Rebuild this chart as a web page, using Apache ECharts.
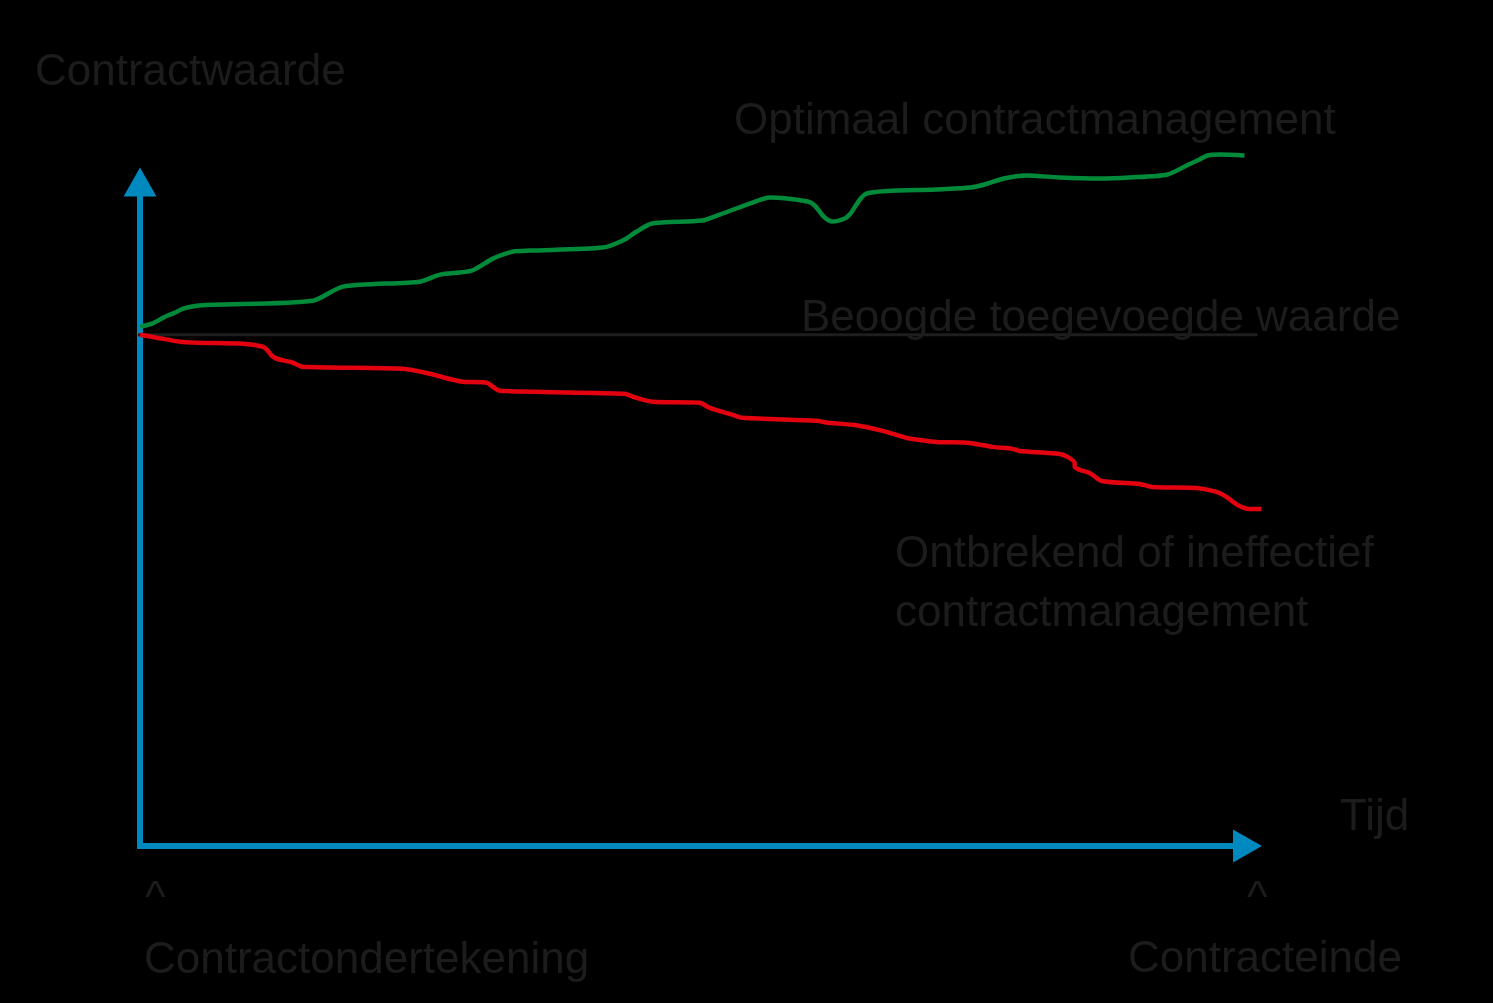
<!DOCTYPE html>
<html>
<head>
<meta charset="utf-8">
<script src="https://cdn.jsdelivr.net/npm/echarts@6/dist/echarts.min.js"></script>
<style>
  html, body { margin: 0; padding: 0; background: #000; }
  #chart { width: 1493px; height: 1003px; }
</style>
</head>
<body>
<div id="chart"></div>
<script>
// Time (0 = contractondertekening, 100 = contracteinde), value relative to beoogde waarde (0)
var optimaalData = [
  [0, 1.2], [1.08, 1.66], [2.26, 2.71], [3.16, 3.32], [3.88, 3.92], [5.14, 4.37],
  [6.59, 4.52], [15.61, 5.13], [18.32, 7.24], [25.27, 7.99], [27.08, 9.05],
  [29.96, 9.65], [31.86, 11.46], [33.66, 12.52], [35.2, 12.67], [41.79, 13.12],
  [43.59, 14.18], [44.86, 15.54], [46.21, 16.74], [50.72, 17.19], [52.35, 18.1],
  [55.32, 19.91], [56.86, 20.66], [60.29, 20.06], [60.92, 19.46], [61.82, 17.65],
  [62.55, 17.04], [63.63, 17.5], [64.08, 18.1], [65.61, 21.27], [71.84, 21.87],
  [75.0, 22.17], [76.26, 22.62], [77.98, 23.53], [80.05, 23.98], [83.03, 23.68],
  [86.64, 23.53], [89.35, 23.68], [92.78, 24.13], [94.68, 25.64], [95.67, 26.4],
  [96.39, 27.0], [97.56, 27.15], [99.73, 27.0]
];
var ineffectiefData = [
  [0, 0], [1.53, -0.45], [3.61, -1.06], [5.14, -1.21], [9.3, -1.36], [11.1, -1.81],
  [11.46, -2.26], [11.91, -3.17], [12.36, -3.62], [13.81, -4.22], [14.71, -4.83],
  [23.74, -5.13], [26.17, -5.88], [28.25, -6.79], [29.15, -7.09], [31.32, -7.24],
  [31.86, -7.84], [32.49, -8.45], [43.77, -8.9], [44.49, -9.35], [46.3, -10.11],
  [50.54, -10.26], [51.44, -11.01], [53.52, -12.07], [54.42, -12.52], [61.1, -12.97],
  [62.09, -13.27], [64.35, -13.57], [67.06, -14.48], [68.59, -15.23], [69.22, -15.54],
  [71.93, -16.14], [74.91, -16.29], [76.99, -16.89], [78.79, -17.19], [79.42, -17.5],
  [83.03, -17.95], [83.75, -18.4], [84.39, -19.31], [84.4, -19.91], [84.84, -20.36],
  [85.74, -20.81], [86.82, -22.02], [90.25, -22.47], [91.43, -22.93], [95.4, -23.08],
  [97.2, -23.68], [98.1, -24.43], [99.1, -25.64], [100.18, -26.24], [101.26, -26.24]
];
var beoogdData = [[-0.3, 0], [100.9, 0]];

var axisTitleY = 'Contractwaarde';
var axisTitleX = 'Tijd';
var labelOptimaal = 'Optimaal contractmanagement';
var labelBeoogd = 'Beoogde toegevoegde waarde';
var labelIneffectief = 'Ontbrekend of ineffectief\ncontractmanagement';
var labelStart = 'Contractondertekening';
var labelEnd = 'Contracteinde';

var textColor = '#1c1c1c';
var fontFamily = '"Liberation Sans", Arial, sans-serif';
function txt(x, y, s, extra) {
  var st = { text: s, fill: textColor, font: '44px ' + fontFamily, textAlign: 'left', textVerticalAlign: 'middle' };
  if (extra) for (var k in extra) st[k] = extra[k];
  return { type: 'text', x: x, y: y, z: 10, style: st };
}

var pxPerX = 11.075;           // both grids share the same scale
var plotLeft = 140, plotTop = 182, plotBottom = 157;
var axisXMax = 100, dataXMax = 102;
var hidden = { show: false };

var chart = echarts.init(document.getElementById('chart'), null, { renderer: 'canvas' });
chart.setOption({
  backgroundColor: '#000000',
  animation: false,
  grid: [
    { left: plotLeft, right: 1493 - plotLeft - axisXMax * pxPerX, top: plotTop, bottom: plotBottom },
    { left: plotLeft, right: 1493 - plotLeft - dataXMax * pxPerX, top: plotTop, bottom: plotBottom }
  ],
  xAxis: [
    { gridIndex: 0, type: 'value', min: 0, max: axisXMax,
      axisLine: { show: true, onZero: false, symbol: ['none', 'triangle'], symbolSize: [33, 29],
        lineStyle: { color: '#0089BF', width: 6, cap: 'square' } },
      axisTick: hidden, axisLabel: hidden, splitLine: hidden },
    { gridIndex: 1, type: 'value', min: 0, max: dataXMax,
      axisLine: hidden, axisTick: hidden, axisLabel: hidden, splitLine: hidden }
  ],
  yAxis: [
    { gridIndex: 0, type: 'value', min: -77, max: 23,
      axisLine: { show: true, onZero: false, symbol: ['none', 'triangle'], symbolSize: [33, 29],
        lineStyle: { color: '#0089BF', width: 6, cap: 'square' } },
      axisTick: hidden, axisLabel: hidden, splitLine: hidden },
    { gridIndex: 1, type: 'value', min: -77, max: 23,
      axisLine: hidden, axisTick: hidden, axisLabel: hidden, splitLine: hidden }
  ],
  series: [
    { type: 'line', xAxisIndex: 1, yAxisIndex: 1, data: beoogdData, showSymbol: false, clip: false, z: 1,
      lineStyle: { color: '#1e1e1e', width: 3 } },
    { type: 'line', xAxisIndex: 1, yAxisIndex: 1, data: optimaalData, showSymbol: false, clip: false, smooth: 0.25, z: 3,
      lineStyle: { color: '#008A3A', width: 4.5 } },
    { type: 'line', xAxisIndex: 1, yAxisIndex: 1, data: ineffectiefData, showSymbol: false, clip: false, smooth: 0.25, z: 3,
      lineStyle: { color: '#E3000F', width: 4.5 } }
  ],
  graphic: [
    txt(35, 73, axisTitleY),
    txt(734, 122, labelOptimaal),
    txt(801, 319, labelBeoogd),
    txt(895, 584.5, labelIneffectief, { lineHeight: 59 }),
    txt(1340, 818, axisTitleX),
    txt(145, 900, '^'),
    txt(1247, 900, '^'),
    txt(144, 961, labelStart),
    txt(1128, 960, labelEnd)
  ]
});
</script>
</body>
</html>
